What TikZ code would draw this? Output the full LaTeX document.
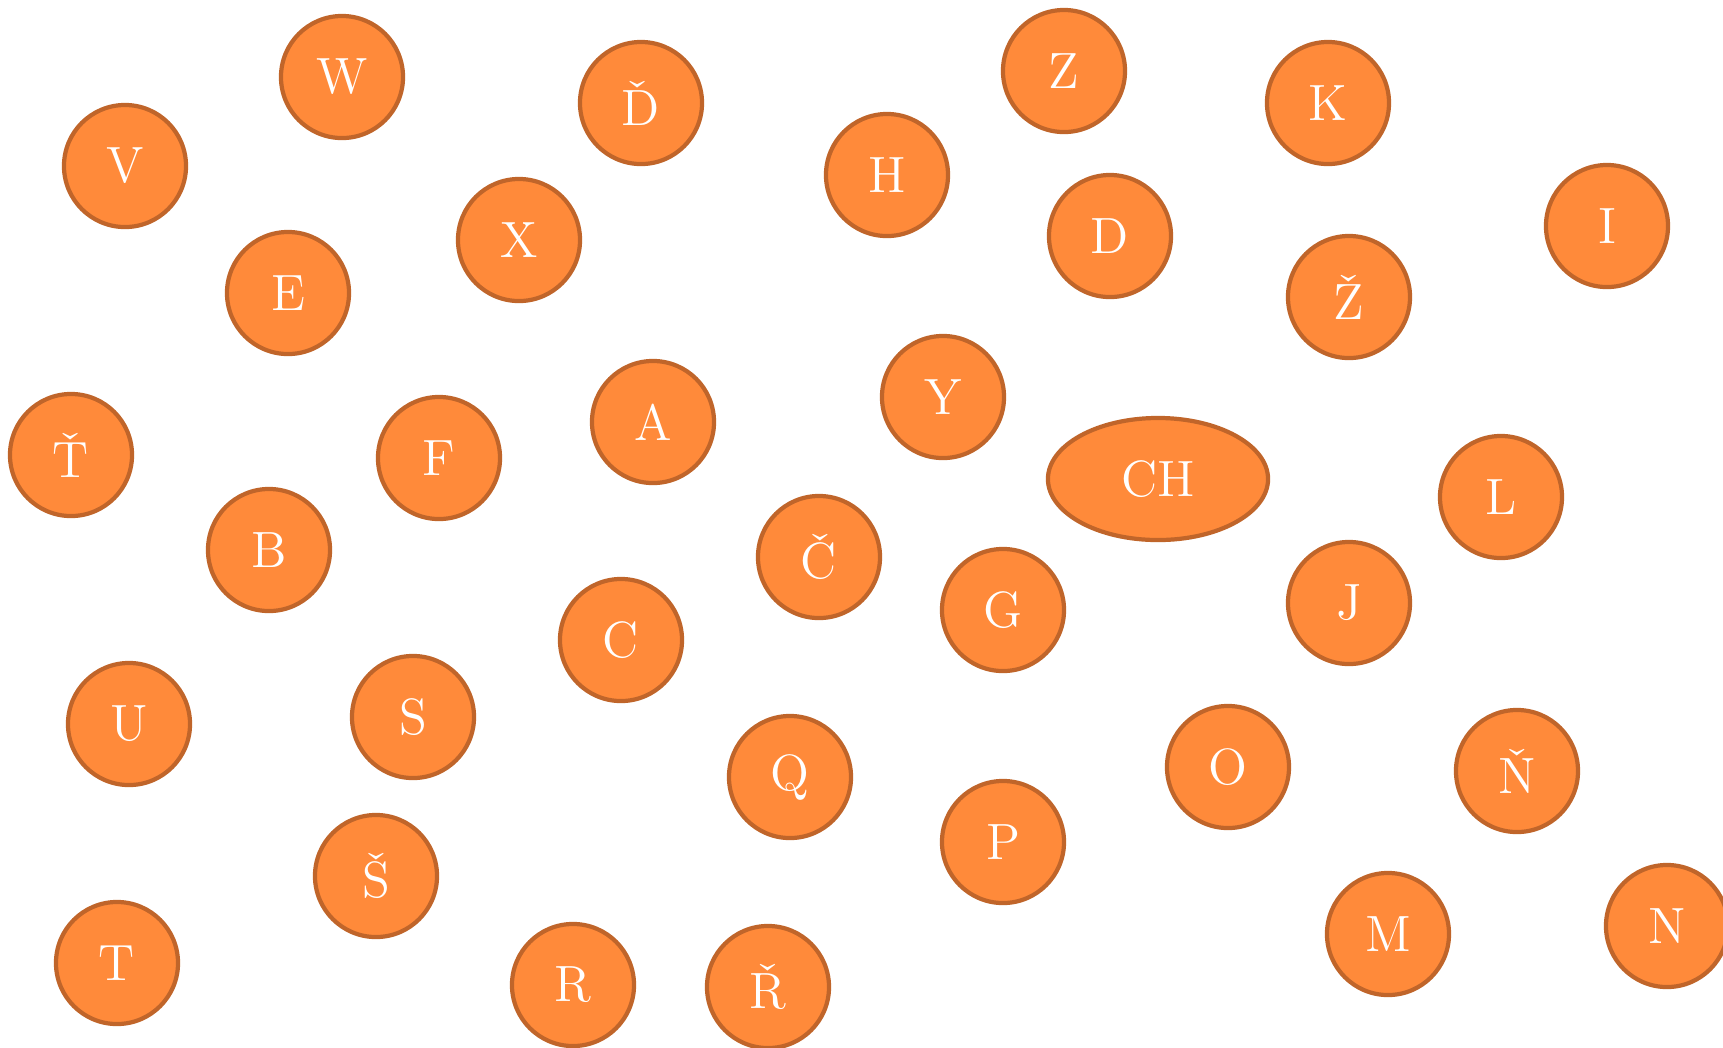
\documentclass[tikz,border=0pt]{standalone}
\usepackage{fontspec}
\usetikzlibrary{shapes.geometric}
\definecolor{ballfill}{HTML}{FF8A3A}
\definecolor{balledge}{HTML}{C0652A}
\tikzset{
    ball/.style={circle, fill=ballfill, draw=balledge, line width=1.2pt,
        minimum size=1.22cm, inner sep=0pt, text=white,
        font=\fontsize{14.5}{17}\selectfont},
    bigball/.style={ball, ellipse, minimum width=2.2cm, minimum height=1.22cm}
}
\begin{document}
\begin{tikzpicture}[x=0.01cm, y=-0.01cm]
        \clip (0,0) rectangle (1723,1047);
        \useasboundingbox (0,0) rectangle (1723,1047);
        % top rows
        \node[ball] (w) at (342,77) {W};
        \node[ball] (dh) at (641,103) {Ď};
        \node[ball] (z) at (1064,71) {Z};
        \node[ball] (k) at (1328,103) {K};
        \node[ball] (v) at (125,166) {V};
        \node[ball] (h) at (887,175) {H};
        \node[ball] (i) at (1607,226) {I};
        \node[ball] (x) at (519,240) {X};
        \node[ball] (e) at (288,293) {E};
        \node[ball] (d) at (1110,236) {D};
        \node[ball] (zh) at (1349,297) {Ž};
        % middle
        \node[ball] (a) at (653,422) {A};
        \node[ball] (y) at (943,397) {Y};
        \node[ball] (th) at (71,455) {Ť};
        \node[ball] (f) at (439,458) {F};
        \node[bigball] (ch) at (1158,479) {CH};
        \node[ball] (l) at (1501,497) {L};
        \node[ball] (b) at (269,550) {B};
        \node[ball] (cz) at (819,557) {Č};
        \node[ball] (g) at (1003,610) {G};
        \node[ball] (j) at (1349,603) {J};
        \node[ball] (c) at (621,640) {C};
        % bottom rows
        \node[ball] (u) at (129,724) {U};
        \node[ball] (s) at (413,717) {S};
        \node[ball] (q) at (790,777) {Q};
        \node[ball] (o) at (1228,767) {O};
        \node[ball] (nh) at (1517,771) {Ň};
        \node[ball] (p) at (1003,842) {P};
        \node[ball] (sh) at (376,876) {Š};
        \node[ball] (m) at (1388,934) {M};
        \node[ball] (n) at (1667,926) {N};
        \node[ball] (t) at (117,963) {T};
        \node[ball] (r) at (573,985) {R};
        \node[ball] (rz) at (768,987) {Ř};
    \end{tikzpicture}
\end{document}
